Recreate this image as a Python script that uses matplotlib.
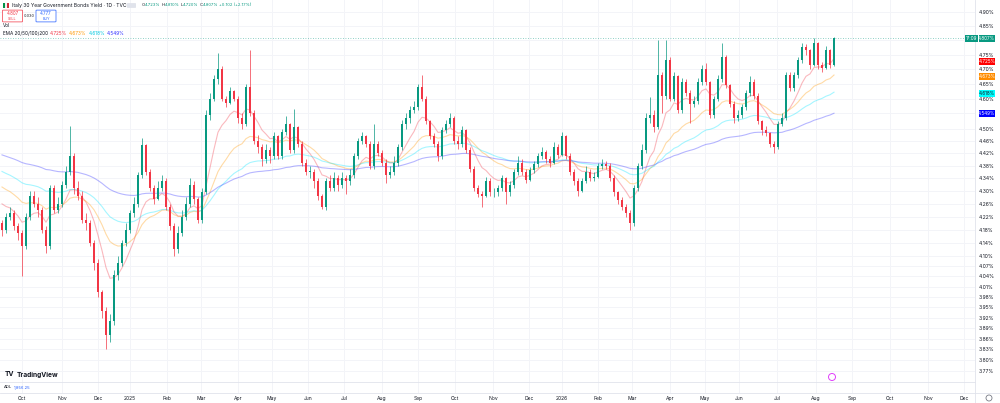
import numpy as np
import matplotlib
matplotlib.use("Agg")
import matplotlib.pyplot as plt
from matplotlib.patches import Rectangle, Ellipse, FancyBboxPatch

plt.rcParams['font.family'] = ['Inter', 'DejaVu Sans']

# Italy 30Y yield, one candle ~ every 2 trading days
closes = [
    4.18, 4.22, 4.23, 4.19, 4.17, 4.13, 4.22, 4.285, 4.26, 4.24,
    4.18, 4.13, 4.31, 4.24, 4.26, 4.32, 4.36, 4.41, 4.31, 4.285,
    4.21, 4.20, 4.14, 4.08, 3.995, 3.94, 3.87, 3.91, 4.045, 4.08,
    4.14, 4.18, 4.23, 4.26, 4.35, 4.445, 4.36, 4.31, 4.275, 4.31,
    4.33, 4.25, 4.19, 4.12, 4.17, 4.22, 4.26, 4.32, 4.275, 4.21,
    4.295, 4.545, 4.60, 4.665, 4.70, 4.60, 4.585, 4.625, 4.60, 4.535,
    4.515, 4.64, 4.55, 4.46, 4.44, 4.40, 4.43, 4.41, 4.475, 4.41,
    4.49, 4.515, 4.43, 4.505, 4.45, 4.39, 4.36, 4.36, 4.33, 4.285,
    4.25, 4.33, 4.31, 4.34, 4.32, 4.34, 4.33, 4.35, 4.41, 4.46,
    4.475, 4.45, 4.38, 4.45, 4.42, 4.39, 4.35, 4.36, 4.39, 4.44,
    4.515, 4.535, 4.56, 4.57, 4.64, 4.60, 4.525, 4.475, 4.45, 4.41,
    4.495, 4.515, 4.535, 4.46, 4.45, 4.495, 4.43, 4.37, 4.31, 4.29,
    4.285, 4.33, 4.295, 4.295, 4.31, 4.34, 4.295, 4.32, 4.36, 4.39,
    4.36, 4.335, 4.365, 4.385, 4.41, 4.425, 4.40, 4.39, 4.44, 4.415,
    4.475, 4.41, 4.36, 4.33, 4.30, 4.33, 4.36, 4.34, 4.345, 4.38,
    4.385, 4.38, 4.34, 4.295, 4.27, 4.25, 4.23, 4.20, 4.31, 4.38,
    4.43, 4.535, 4.545, 4.505, 4.68, 4.61, 4.73, 4.60, 4.675, 4.56,
    4.655, 4.62, 4.58, 4.59, 4.655, 4.70, 4.655, 4.545, 4.60, 4.665,
    4.74, 4.645, 4.58, 4.535, 4.545, 4.57, 4.62, 4.655, 4.61, 4.525,
    4.495, 4.485, 4.45, 4.44, 4.515, 4.535, 4.68, 4.635, 4.68, 4.73,
    4.775, 4.765, 4.715, 4.79, 4.715, 4.705, 4.765, 4.715, 4.807,
]
highs = [
    4.21, 4.23, 4.25, 4.24, 4.20, 4.18, 4.23, 4.30, 4.30, 4.28,
    4.25, 4.19, 4.32, 4.32, 4.28, 4.33, 4.38, 4.51, 4.42, 4.33,
    4.30, 4.23, 4.21, 4.15, 4.09, 4.00, 3.95, 3.93, 4.06, 4.10,
    4.15, 4.20, 4.24, 4.28, 4.36, 4.47, 4.45, 4.37, 4.32, 4.33,
    4.35, 4.34, 4.26, 4.20, 4.19, 4.24, 4.28, 4.34, 4.33, 4.28,
    4.31, 4.56, 4.62, 4.68, 4.755, 4.71, 4.61, 4.64, 4.63, 4.61,
    4.55, 4.65, 4.765, 4.56, 4.48, 4.45, 4.45, 4.44, 4.49, 4.48,
    4.50, 4.54, 4.52, 4.565, 4.51, 4.46, 4.40, 4.38, 4.37, 4.34,
    4.29, 4.34, 4.35, 4.36, 4.35, 4.36, 4.35, 4.37, 4.42, 4.47,
    4.49, 4.48, 4.46, 4.515, 4.46, 4.43, 4.40, 4.38, 4.41, 4.45,
    4.53, 4.55, 4.575, 4.59, 4.65, 4.68, 4.61, 4.53, 4.485, 4.46,
    4.505, 4.53, 4.55, 4.54, 4.475, 4.51, 4.50, 4.44, 4.38, 4.32,
    4.30, 4.345, 4.34, 4.31, 4.32, 4.35, 4.345, 4.33, 4.37, 4.41,
    4.40, 4.37, 4.375, 4.395, 4.42, 4.44, 4.43, 4.41, 4.455, 4.45,
    4.49, 4.48, 4.42, 4.37, 4.34, 4.34, 4.38, 4.37, 4.36, 4.39,
    4.40, 4.395, 4.39, 4.35, 4.30, 4.28, 4.26, 4.24, 4.32, 4.39,
    4.45, 4.55, 4.605, 4.56, 4.80, 4.69, 4.80, 4.74, 4.69, 4.68,
    4.67, 4.665, 4.63, 4.61, 4.67, 4.715, 4.72, 4.66, 4.61, 4.68,
    4.79, 4.75, 4.65, 4.59, 4.56, 4.58, 4.63, 4.675, 4.665, 4.62,
    4.53, 4.51, 4.49, 4.46, 4.525, 4.55, 4.69, 4.69, 4.69, 4.74,
    4.79, 4.785, 4.77, 4.807, 4.795, 4.725, 4.78, 4.77, 4.81,
]
lows = [
    4.16, 4.17, 4.21, 4.18, 4.15, 4.04, 4.12, 4.21, 4.25, 4.22,
    4.17, 4.11, 4.12, 4.23, 4.23, 4.25, 4.31, 4.35, 4.29, 4.27,
    4.20, 4.18, 4.13, 4.06, 3.98, 3.92, 3.83, 3.85, 3.90, 4.03,
    4.07, 4.13, 4.17, 4.22, 4.25, 4.34, 4.35, 4.30, 4.26, 4.27,
    4.30, 4.24, 4.18, 4.10, 4.11, 4.16, 4.21, 4.25, 4.26, 4.20,
    4.20, 4.29, 4.53, 4.59, 4.65, 4.59, 4.57, 4.58, 4.59, 4.52,
    4.50, 4.51, 4.54, 4.45, 4.42, 4.38, 4.39, 4.39, 4.40, 4.40,
    4.40, 4.48, 4.42, 4.42, 4.44, 4.38, 4.35, 4.34, 4.31, 4.27,
    4.245, 4.24, 4.30, 4.30, 4.30, 4.31, 4.29, 4.32, 4.34, 4.40,
    4.45, 4.44, 4.37, 4.37, 4.41, 4.38, 4.325, 4.34, 4.35, 4.38,
    4.43, 4.50, 4.52, 4.55, 4.56, 4.59, 4.515, 4.465, 4.44, 4.395,
    4.40, 4.485, 4.505, 4.45, 4.435, 4.44, 4.42, 4.36, 4.30, 4.28,
    4.25, 4.28, 4.285, 4.28, 4.285, 4.30, 4.26, 4.285, 4.31, 4.35,
    4.35, 4.325, 4.33, 4.355, 4.375, 4.40, 4.39, 4.375, 4.385, 4.405,
    4.41, 4.40, 4.35, 4.32, 4.285, 4.295, 4.325, 4.33, 4.33, 4.34,
    4.37, 4.37, 4.33, 4.285, 4.26, 4.24, 4.22, 4.18, 4.19, 4.30,
    4.37, 4.42, 4.52, 4.49, 4.50, 4.55, 4.60, 4.59, 4.59, 4.55,
    4.55, 4.61, 4.52, 4.57, 4.58, 4.645, 4.645, 4.535, 4.535, 4.59,
    4.655, 4.635, 4.57, 4.52, 4.525, 4.535, 4.56, 4.61, 4.60, 4.515,
    4.48, 4.475, 4.44, 4.42, 4.435, 4.51, 4.53, 4.625, 4.625, 4.67,
    4.72, 4.75, 4.70, 4.71, 4.70, 4.69, 4.70, 4.705, 4.71,
]
first_open = 4.20

ema_periods = [20, 50, 100, 200]
ema_start = [4.28, 4.325, 4.37, 4.42]      # EMA levels at the left edge
ema_colors = ['#f23645', '#ff9800', '#00e5ff', '#3030ff']
ema_badges = ['4.725%', '4.673%', '4.618%', '4.549%']
ema_badge_vals = [4.725, 4.673, 4.618, 4.549]
days_per_bar = 2.3

month_labels = ['Oct', 'Nov', 'Dec', '2025', 'Feb', 'Mar', 'Apr', 'May', 'Jun',
                'Jul', 'Aug', 'Sep', 'Oct', 'Nov', 'Dec', '2026', 'Feb', 'Mar',
                'Apr', 'May', 'Jun', 'Jul', 'Aug', 'Sep', 'Oct', 'Nov', 'Dec']
month_pos = [5, 15, 24, 32, 41.25, 49.75, 59, 67.5, 76.5, 85.5, 95, 104,
             113.25, 122.75, 131.75, 140, 149, 157.5, 167, 175.75, 184.25,
             193.75, 203.5, 212.5, 222, 231.5, 240.5]

price_ticks = [4.90, 4.85, 4.80, 4.75, 4.70, 4.65, 4.60, 4.55, 4.50, 4.46, 4.42,
               4.38, 4.34, 4.30, 4.26, 4.22, 4.18, 4.14, 4.10, 4.07, 4.04, 4.01,
               3.98, 3.95, 3.92, 3.89, 3.86, 3.83, 3.80, 3.77]
hidden_ticks = [4.80, 4.55]   # covered by the price badges

UP = '#089981'
DOWN = '#f23645'
TXT = '#131722'
GRID = '#f3f4f8'
FS = 3.4   # small legend text

W, H = 1000, 403
fig = plt.figure(figsize=(W / 100, H / 100), dpi=100)
fig.patch.set_facecolor('white')
renderer = fig.canvas.get_renderer()


def fx(x):
    return x / W


def fy(y):
    return 1 - y / H


def circle(x, y, r, **kw):
    fig.patches.append(Ellipse((fx(x), fy(y)), 2 * r / W, 2 * r / H,
                               transform=fig.transFigure, **kw))


def text_row(x, y, parts, fs=FS):
    # lay texts one after another so they never run into each other
    for s, col, gap in parts:
        t = fig.text(fx(x), fy(y), s, fontsize=fs, color=col, va='center')
        x += t.get_window_extent(renderer).width + gap
    return x


ax = fig.add_axes([0, fy(382), fx(975), 382 / H])
ax.set_xlim(-0.5, 243.25)
ax.set_yscale('log')
ax.set_ylim(3.740, 4.943)
for s in ax.spines.values():
    s.set_visible(False)

closes = np.array(closes)
highs = np.array(highs)
lows = np.array(lows)
opens = np.concatenate([[first_open], closes[:-1]])
idx = np.arange(len(closes))

# grid
for p in month_pos:
    ax.axvline(p, color=GRID, lw=0.7, zorder=0)
for t in price_ticks:
    ax.axhline(t, color=GRID, lw=0.7, zorder=0)

# EMAs
for period, seed, col in zip(ema_periods, ema_start, ema_colors):
    a = 1 - (1 - 2 / (period + 1)) ** days_per_bar
    e = np.empty(len(closes))
    prev = seed
    for i, c in enumerate(closes):
        prev = a * c + (1 - a) * prev
        e[i] = prev
    ax.plot(idx, e, color=col, lw=0.8, alpha=0.35, zorder=2)

# candles
up = closes >= opens
cols = np.where(up, UP, DOWN)
ax.vlines(idx, lows, highs, colors=cols, lw=0.5, zorder=3)
body_lo = np.minimum(opens, closes)
body_h = np.maximum(np.abs(closes - opens), 0.003)
ax.bar(idx, body_h, bottom=body_lo, width=0.55, color=cols, lw=0, zorder=4)

# last price line
ax.axhline(closes[-1], color=UP, lw=0.6, ls=(0, (1, 2)), alpha=0.6, zorder=1)

# right price scale
ax.yaxis.tick_right()
ax.set_yticks(price_ticks)
ax.set_yticklabels(['' if t in hidden_ticks else f'{t:.2f}%' for t in price_ticks])
ax.yaxis.set_minor_locator(matplotlib.ticker.NullLocator())
ax.tick_params(axis='y', length=0, pad=2.6, labelsize=3.6, labelcolor=TXT)
ax.set_xticks([])


def price_y(v):
    return ax.transData.transform((0, v))[1] / H


def badge(x0, x1, v, fc, tc, s):
    yc = price_y(v)
    fig.patches.append(Rectangle((fx(x0), yc - 3.5 / H), fx(x1 - x0), 7 / H,
                                 transform=fig.transFigure, fc=fc, ec='none', zorder=5))
    fig.text(fx((x0 + x1) / 2), yc, s, ha='center', va='center', fontsize=3.3,
             color=tc, zorder=6)


badge(965, 978, closes[-1], UP, 'white', '17:09')
badge(978.5, 995, closes[-1], UP, 'white', '4.807%')
badge_text = ['white', 'white', '#131722', 'white']
for v, col, s, tc in zip(ema_badge_vals, ['#ff0000', '#ff8c00', '#00ffff', '#0000ff'],
                         ema_badges, badge_text):
    badge(978.5, 995, v, col, tc, s)

# ADL pane and time scale
fig.add_artist(plt.Line2D([0, fx(975)], [fy(382), fy(382)], color='#e0e3eb', lw=0.6))
fig.add_artist(plt.Line2D([0, 1], [fy(393), fy(393)], color='#e0e3eb', lw=0.6))
fig.add_artist(plt.Line2D([fx(975), fx(975)], [0, 1], color='#e0e3eb', lw=0.6))
ax_adl = fig.add_axes([0, fy(393), fx(975), 11 / H])
ax_adl.set_xlim(ax.get_xlim())
ax_adl.axis('off')
for p in month_pos:
    ax_adl.axvline(p, color=GRID, lw=0.7, zorder=0)

ax_time = fig.add_axes([0, 0, fx(975), 10 / H])
ax_time.set_xlim(ax.get_xlim())
ax_time.set_ylim(0, 1)
ax_time.axis('off')
for p, lab in zip(month_pos, month_labels):
    ax_time.text(p, 0.45, lab, ha='center', va='center', fontsize=3.6, color=TXT)
circle(989, 398, 3, fc='none', ec='#787b86', lw=0.6)

# header legend
for x0, col in [(3, '#009246'), (5, '#f0f0f0'), (7, '#ce2b37')]:
    fig.patches.append(Rectangle((fx(x0), fy(8)), fx(2), 5 / H,
                                 transform=fig.transFigure, fc=col, ec='none'))
fig.text(fx(12), fy(5.5), 'Italy 30 Year Government Bonds Yield · 1D · TVC',
         fontsize=3.6, color=TXT, va='center')
fig.patches.append(FancyBboxPatch((fx(128), fy(7.5)), fx(7), 4 / H,
                                  boxstyle='round,pad=0.001', transform=fig.transFigure,
                                  fc='#e0e3eb', ec='none'))
text_row(142, 5.5, [('O', TXT, 0.0), ('4.723%', UP, 1.0),
                    ('H', TXT, 0.0), ('4.810%', UP, 1.0),
                    ('L', TXT, 0.0), ('4.720%', UP, 1.0),
                    ('C', TXT, 0.0), ('4.807%', UP, 1.0),
                    ('+0.102 (+2.17%)', UP, 0)], fs=3.0)

fig.patches.append(FancyBboxPatch((fx(3.5), fy(21.5)), fx(18), 11 / H,
                                  boxstyle='round,pad=0.001', transform=fig.transFigure,
                                  fc='white', ec=DOWN, lw=0.5))
fig.text(fx(12.5), fy(13.5), '4.807', fontsize=3.2, color=DOWN, ha='center', va='center')
fig.text(fx(12.5), fy(18.7), 'SELL', fontsize=2.6, color=DOWN, ha='center', va='center')
fig.text(fx(29.2), fy(16), '0.030', fontsize=2.8, color=TXT, ha='center', va='center')
fig.patches.append(FancyBboxPatch((fx(37), fy(21.5)), fx(18), 11 / H,
                                  boxstyle='round,pad=0.001', transform=fig.transFigure,
                                  fc='white', ec='#2962ff', lw=0.5))
fig.text(fx(46), fy(13.5), '4.777', fontsize=3.2, color='#2962ff', ha='center', va='center')
fig.text(fx(46), fy(18.7), 'BUY', fontsize=2.6, color='#2962ff', ha='center', va='center')

fig.text(fx(3), fy(25.5), 'Vol', fontsize=FS, color=TXT, va='center')
text_row(3, 33.5, [('EMA 20/50/100/200', TXT, 2.0),
                   (ema_badges[0], '#f23645', 1.8),
                   (ema_badges[1], '#ff9800', 1.8),
                   (ema_badges[2], '#00c8e0', 1.8),
                   (ema_badges[3], '#3030ff', 0)])

# bottom-left branding and ADL value
fig.text(fx(5), fy(374.5), 'TV', fontsize=4.8, color=TXT, va='center', fontweight='bold')
fig.text(fx(17), fy(374.5), 'TradingView', fontsize=4.8, color=TXT, va='center',
         fontweight='bold')
text_row(4, 387.5, [('ADL', TXT, 2.0), ('1,856.25', '#2962ff', 0)], fs=3.0)
circle(832, 377, 3.5, fc='white', ec='#e040fb', lw=0.7)

fig.savefig('out.png', dpi=100)
